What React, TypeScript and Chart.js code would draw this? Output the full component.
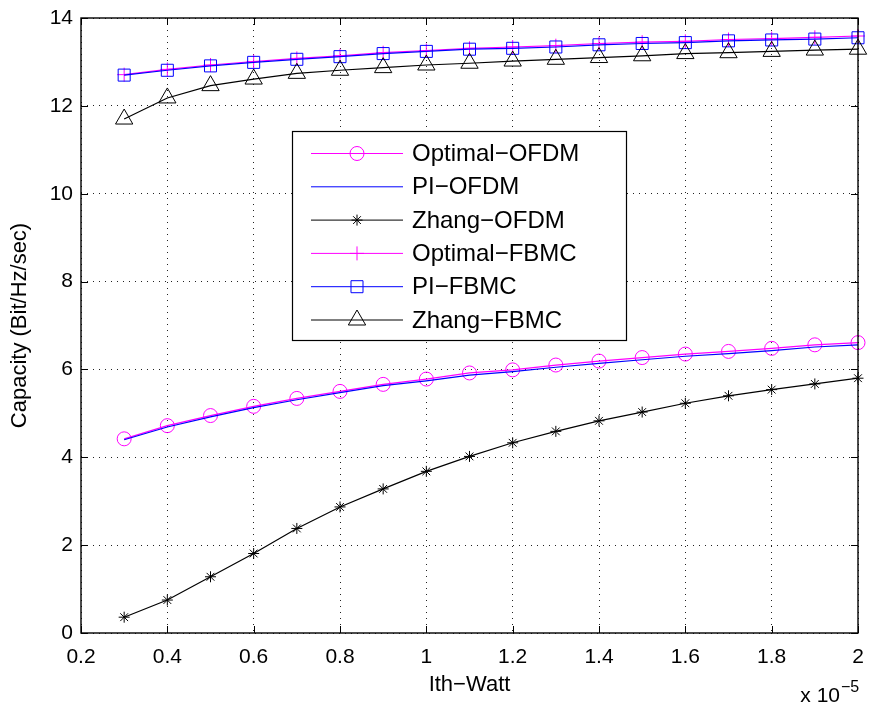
import React, { useEffect, useRef } from 'react';
import { Chart, registerables } from 'chart.js';

Chart.register(...registerables);

// ---------- data ----------
const xValues = [0.3, 0.4, 0.5, 0.6, 0.7, 0.8, 0.9, 1.0, 1.1, 1.2, 1.3, 1.4, 1.5, 1.6, 1.7, 1.8, 1.9, 2.0];

const optimalOFDM = [4.42, 4.72, 4.95, 5.16, 5.34, 5.50, 5.66, 5.78, 5.92, 5.99, 6.10, 6.19, 6.27, 6.35, 6.41, 6.48, 6.56, 6.61];
const piOFDM = [4.40, 4.69, 4.92, 5.13, 5.31, 5.47, 5.63, 5.74, 5.87, 5.95, 6.05, 6.14, 6.22, 6.30, 6.36, 6.43, 6.51, 6.56];
const zhangOFDM = [0.36, 0.75, 1.28, 1.81, 2.38, 2.87, 3.28, 3.68, 4.02, 4.33, 4.59, 4.83, 5.03, 5.23, 5.40, 5.54, 5.67, 5.80];
const optimalFBMC = [12.71, 12.83, 12.93, 13.01, 13.08, 13.14, 13.21, 13.26, 13.31, 13.34, 13.37, 13.42, 13.45, 13.47, 13.51, 13.53, 13.56, 13.59];
const piFBMC = [12.70, 12.81, 12.91, 12.99, 13.06, 13.12, 13.19, 13.24, 13.29, 13.31, 13.34, 13.39, 13.42, 13.44, 13.48, 13.50, 13.52, 13.55];
const zhangFBMC = [11.70, 12.18, 12.46, 12.61, 12.74, 12.81, 12.87, 12.93, 12.97, 13.02, 13.06, 13.10, 13.14, 13.19, 13.21, 13.24, 13.27, 13.29];

const seriesNames = ['Optimal\u2212OFDM', 'PI\u2212OFDM', 'Zhang\u2212OFDM', 'Optimal\u2212FBMC', 'PI\u2212FBMC', 'Zhang\u2212FBMC'];

const xTickValues = [0.2, 0.4, 0.6, 0.8, 1.0, 1.2, 1.4, 1.6, 1.8, 2.0];
const xTickLabels = ['0.2', '0.4', '0.6', '0.8', '1', '1.2', '1.4', '1.6', '1.8', '2'];
const yTickValues = [0, 2, 4, 6, 8, 10, 12, 14];
const yTickLabels = ['0', '2', '4', '6', '8', '10', '12', '14'];

const xTitle = 'Ith\u2212Watt';
const yTitle = 'Capacity (Bit/Hz/sec)';
const xExponentBase = 'x 10';
const xExponent = '\u22125';

// ---------- styling ----------
const FONT = '"Liberation Sans", Arial, Helvetica, sans-serif';
const MAGENTA = '#ff00ff';
const BLUE = '#0000ff';
const BLACK = '#000000';

const toPoints = (ys: number[]) => ys.map((y, i) => ({ x: xValues[i], y }));

function drawMarker(ctx: CanvasRenderingContext2D, style: string, x: number, y: number, r: number, color: string) {
  if (!style || r <= 0) return;
  ctx.save();
  ctx.strokeStyle = color;
  ctx.lineWidth = 1;
  ctx.beginPath();
  if (style === 'circle') {
    ctx.arc(x, y, r, 0, Math.PI * 2);
  } else if (style === 'rect') {
    const s = Math.SQRT1_2 * r;
    ctx.rect(x - s, y - s, 2 * s, 2 * s);
  } else if (style === 'cross') {
    ctx.moveTo(x, y - r); ctx.lineTo(x, y + r);
    ctx.moveTo(x - r, y); ctx.lineTo(x + r, y);
  } else if (style === 'star') {
    ctx.moveTo(x, y - r); ctx.lineTo(x, y + r);
    ctx.moveTo(x - r, y); ctx.lineTo(x + r, y);
    const d = r * Math.SQRT1_2;
    ctx.moveTo(x - d, y - d); ctx.lineTo(x + d, y + d);
    ctx.moveTo(x - d, y + d); ctx.lineTo(x + d, y - d);
  } else if (style === 'triangle') {
    const a = (2 * Math.PI) / 3;
    ctx.moveTo(x, y - r);
    ctx.lineTo(x + Math.sin(a) * r, y - Math.cos(a) * r);
    ctx.lineTo(x + Math.sin(2 * a) * r, y - Math.cos(2 * a) * r);
    ctx.closePath();
  }
  ctx.stroke();
  ctx.restore();
}

const matlabPlugin = {
  id: 'matlabDecor',
  afterDatasetsDraw(chart: any) {
    const { ctx, chartArea: a, scales } = chart;
    ctx.save();
    // frame
    ctx.strokeStyle = BLACK;
    ctx.lineWidth = 1.4;
    ctx.strokeRect(a.left, a.top, a.right - a.left, a.bottom - a.top);
    // inward ticks
    ctx.lineWidth = 1;
    const tl = 7;
    ctx.beginPath();
    scales.x.ticks.forEach((t: any) => {
      const px = Math.round(scales.x.getPixelForValue(t.value)) + 0.5;
      ctx.moveTo(px, a.bottom); ctx.lineTo(px, a.bottom - tl);
      ctx.moveTo(px, a.top); ctx.lineTo(px, a.top + tl);
    });
    scales.y.ticks.forEach((t: any) => {
      const py = Math.round(scales.y.getPixelForValue(t.value)) + 0.5;
      ctx.moveTo(a.left, py); ctx.lineTo(a.left + tl, py);
      ctx.moveTo(a.right, py); ctx.lineTo(a.right - tl, py);
    });
    ctx.stroke();

    // exponent label
    ctx.fillStyle = BLACK;
    ctx.textBaseline = 'alphabetic';
    ctx.font = `21px ${FONT}`;
    ctx.textAlign = 'right';
    ctx.fillText(xExponentBase, 840, 702);
    ctx.font = `16px ${FONT}`;
    ctx.textAlign = 'left';
    ctx.fillText(xExponent, 841, 692);

    // legend
    const lx = 292, ly = 131, lw = 334, lh = 209;
    ctx.fillStyle = '#ffffff';
    ctx.fillRect(lx, ly, lw, lh);
    ctx.strokeStyle = BLACK;
    ctx.lineWidth = 1.2;
    ctx.strokeRect(lx + 0.5, ly + 0.5, lw, lh);
    const rowStart = 153.5, rowStep = 33.3;
    chart.data.datasets.forEach((ds: any, i: number) => {
      const y = rowStart + i * rowStep;
      ctx.strokeStyle = ds.borderColor;
      ctx.lineWidth = 1;
      ctx.beginPath();
      ctx.moveTo(311, y); ctx.lineTo(403, y);
      ctx.stroke();
      drawMarker(ctx, ds.pointStyle, 357, y, ds.pointRadius, ds.borderColor);
      ctx.fillStyle = BLACK;
      ctx.font = `24px ${FONT}`;
      ctx.textAlign = 'left';
      ctx.textBaseline = 'middle';
      ctx.fillText(ds.label, 412, y + 1);
    });
    ctx.restore();
  },
};

function makeDataset(label: string, ys: number[], color: string, pointStyle: any, radius: number, order: number) {
  return {
    label,
    data: toPoints(ys),
    borderColor: color,
    backgroundColor: 'transparent',
    borderWidth: 1.2,
    pointStyle,
    pointRadius: radius,
    pointHoverRadius: radius,
    pointBorderColor: color,
    pointBackgroundColor: 'transparent',
    pointBorderWidth: 1,
    tension: 0,
    clip: false,
    order,
  };
}

export default function App() {
  const canvasRef = useRef<HTMLCanvasElement | null>(null);

  useEffect(() => {
    if (!canvasRef.current) return;
    const chart = new Chart(canvasRef.current, {
      type: 'line',
      data: {
        datasets: [
          makeDataset(seriesNames[0], optimalOFDM, MAGENTA, 'circle', 7, 5),
          makeDataset(seriesNames[1], piOFDM, BLUE, false, 0, 4),
          makeDataset(seriesNames[2], zhangOFDM, BLACK, 'star', 5.5, 3),
          makeDataset(seriesNames[3], optimalFBMC, MAGENTA, 'cross', 7, 2),
          makeDataset(seriesNames[4], piFBMC, BLUE, 'rect', 8.5, 1),
          makeDataset(seriesNames[5], zhangFBMC, BLACK, 'triangle', 10, 0),
        ] as any,
      },
      options: {
        responsive: false,
        maintainAspectRatio: false,
        devicePixelRatio: 1,
        animation: false,
        layout: { padding: { top: 18, right: 7, left: 0, bottom: 0 } },
        plugins: {
          legend: { display: false },
          tooltip: { enabled: false },
        },
        scales: {
          x: {
            type: 'linear',
            min: 0.2,
            max: 2,
            afterBuildTicks: (scale: any) => {
              scale.ticks = xTickValues.map((v) => ({ value: v }));
            },
            afterFit: (scale: any) => {
              scale.height = 73;
              scale.paddingLeft = 0;
              scale.paddingRight = 0;
            },
            ticks: {
              callback: (_v: any, i: number) => xTickLabels[i],
              color: BLACK,
              font: { family: FONT, size: 21 },
              padding: 12,
              maxRotation: 0,
              autoSkip: false,
            },
            grid: { color: '#222', lineWidth: 1, drawTicks: false },
            border: { display: false, dash: [1, 5] },
            title: {
              display: true,
              text: xTitle,
              color: BLACK,
              font: { family: FONT, size: 22 },
              padding: { top: 0, bottom: 8 },
            },
          },
          y: {
            type: 'linear',
            min: 0,
            max: 14,
            afterBuildTicks: (scale: any) => {
              scale.ticks = yTickValues.map((v) => ({ value: v }));
            },
            afterFit: (scale: any) => {
              scale.width = 81;
              scale.paddingTop = 0;
              scale.paddingBottom = 0;
            },
            ticks: {
              callback: (_v: any, i: number) => yTickLabels[i],
              color: BLACK,
              font: { family: FONT, size: 21 },
              padding: 8,
              autoSkip: false,
            },
            grid: { color: '#222', lineWidth: 1, drawTicks: false },
            border: { display: false, dash: [1, 5] },
            title: {
              display: true,
              text: yTitle,
              color: BLACK,
              font: { family: FONT, size: 22 },
              padding: { top: 7, bottom: 0 },
            },
          },
        },
      },
      plugins: [matlabPlugin],
    });
    return () => chart.destroy();
  }, []);

  return (
    <div style={{ position: 'absolute', left: 0, top: 0, width: 869, height: 706, background: '#fff' }}>
      <canvas ref={canvasRef} width={869} height={706} style={{ display: 'block', width: 869, height: 706 }} />
    </div>
  );
}
